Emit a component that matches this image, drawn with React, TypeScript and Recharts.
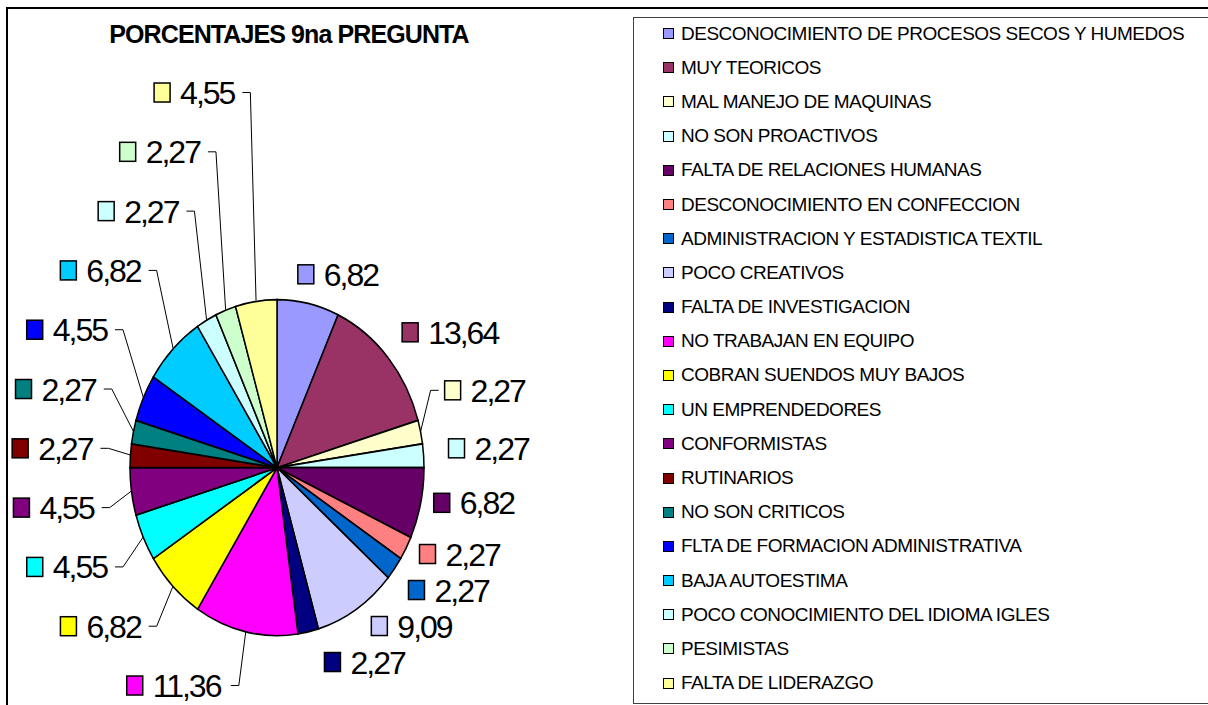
import { PieChart, Pie, Cell, Legend } from 'recharts';

const categories = [
  'DESCONOCIMIENTO DE PROCESOS SECOS Y HUMEDOS',
  'MUY TEORICOS',
  'MAL MANEJO DE MAQUINAS',
  'NO SON PROACTIVOS',
  'FALTA DE RELACIONES HUMANAS',
  'DESCONOCIMIENTO EN CONFECCION',
  'ADMINISTRACION Y ESTADISTICA TEXTIL',
  'POCO CREATIVOS',
  'FALTA DE INVESTIGACION',
  'NO TRABAJAN EN EQUIPO',
  'COBRAN SUENDOS MUY BAJOS',
  'UN EMPRENDEDORES',
  'CONFORMISTAS',
  'RUTINARIOS',
  'NO SON CRITICOS',
  'FLTA DE FORMACION ADMINISTRATIVA',
  'BAJA AUTOESTIMA',
  'POCO CONOCIMIENTO DEL IDIOMA IGLES',
  'PESIMISTAS',
  'FALTA DE LIDERAZGO',
];

const values = [
  6.82, 13.64, 2.27, 2.27, 6.82, 2.27, 2.27, 9.09, 2.27, 11.36,
  6.82, 4.55, 4.55, 2.27, 2.27, 4.55, 6.82, 2.27, 2.27, 4.55,
];

const colors = [
  '#9999FF', '#993366', '#FFFFCC', '#CCFFFF', '#660066',
  '#FF8080', '#0066CC', '#CCCCFF', '#000080', '#FF00FF',
  '#FFFF00', '#00FFFF', '#800080', '#800000', '#008080',
  '#0000FF', '#00CCFF', '#CCFFFF', '#CCFFCC', '#FFFF99',
];

const data = categories.map((name, i) => ({ name, value: values[i] }));

// pie geometry (svg coords); Excel draws it slightly taller than wide
const CX = 264;
const CY = 453;
const R = 147;
const STRETCH = 168 / 147;
const RAD = Math.PI / 180;

const FONT = '"Liberation Sans", Arial, sans-serif';
const LABEL_SIZE = 32;
const LABEL_SPACING = -2;

const fmt = (v: number) => v.toFixed(2).replace('.', ',');

function textWidth(s: string) {
  let w = 0;
  for (const ch of s) w += ch === ',' ? 0.278 : 0.556;
  return w * LABEL_SIZE + LABEL_SPACING * (s.length - 1);
}

// spread labels vertically on each side so they don't overlap
function labelRows() {
  const total = values.reduce((a, b) => a + b, 0);
  const ry = R * STRETCH;
  let acc = 0;
  const items = values.map((v, i) => {
    const mid = 90 - ((acc + v / 2) / total) * 360;
    acc += v;
    const c = Math.cos(mid * RAD);
    const s = Math.sin(mid * RAD);
    return { i, s, y: CY - (ry + 24) * s, right: c >= 0 };
  });
  const place = (list: typeof items, gapUp: number, gapDown: number) => {
    list.sort((a, b) => a.y - b.y);
    let k = 0;
    list.forEach((it, j) => {
      if (Math.abs(it.s) < Math.abs(list[k].s)) k = j;
    });
    for (let j = k - 1; j >= 0; j--) list[j].y = Math.min(list[j].y, list[j + 1].y - gapUp);
    for (let j = k + 1; j < list.length; j++) list[j].y = Math.max(list[j].y, list[j - 1].y + gapDown);
  };
  place(items.filter((it) => it.right), 58, 36);
  place(items.filter((it) => !it.right), 59.3, 59.3);
  const ys: number[] = [];
  items.forEach((it) => (ys[it.i] = it.y));
  return ys;
}

const rows = labelRows();

const renderLabel = (props: any) => {
  const { cx, cy, midAngle, outerRadius, index, value } = props;
  const c = Math.cos(midAngle * RAD);
  const s = Math.sin(midAngle * RAD);
  const px = cx + outerRadius * c;
  const py = cy - outerRadius * STRETCH * s;
  const y = rows[index];
  const txt = fmt(value);
  const tw = textWidth(txt);
  const w = 26 + tw;
  const right = c >= 0;
  const bend = 1 - Math.abs(c);
  const left = right
    ? s > 0
      ? cx + 172 * c - 20 * bend
      : cx + 160 * c + 17 * bend
    : cx + 183 * c - 17 * bend - w;
  const dx = Math.max(left - px, 0, px - (left + w));
  const dy = Math.max(y - 16 - py, 0, py - (y + 16));
  const leader = Math.hypot(dx, dy) > 24.9;
  const lineD = right
    ? `M${left - 6},${y}H${left - 14}L${px},${py}`
    : `M${left + w + 6},${y}H${left + w + 14}L${px},${py}`;
  return (
    <g key={`lbl-${index}`}>
      {leader && <path d={lineD} fill="none" stroke="#000" strokeWidth={1} />}
      <rect x={left} y={y - 9.5} width={16} height={19} fill={colors[index]} stroke="#000" strokeWidth={1.5} />
      <text
        x={left + 26}
        y={y + 11.5}
        fontFamily={FONT}
        fontSize={LABEL_SIZE}
        letterSpacing={LABEL_SPACING}
        fill="#000"
      >
        {txt}
      </text>
    </g>
  );
};

const renderLegend = (props: any) => {
  const items = [...(props.payload || [])].sort(
    (a: any, b: any) => categories.indexOf(a.value) - categories.indexOf(b.value)
  );
  return (
    <div style={{ paddingLeft: 29, marginTop: -1.5 }}>
      {items.map((entry: any) => (
        <div key={entry.value} style={{ height: 34.2, display: 'flex', alignItems: 'center' }}>
          <span
            style={{
              display: 'inline-block',
              width: 11,
              height: 11,
              boxSizing: 'border-box',
              border: '1.5px solid #000',
              background: colors[categories.indexOf(entry.value)],
              marginRight: 7,
            }}
          />
          <span style={{ fontFamily: FONT, fontSize: 19, letterSpacing: -0.5, color: '#000', whiteSpace: 'nowrap' }}>
            {entry.value}
          </span>
        </div>
      ))}
    </div>
  );
};

export default function App() {
  return (
    <div
      className="pie9"
      style={{
        position: 'absolute',
        left: 6,
        top: 7,
        width: 1202,
        height: 698,
        boxSizing: 'border-box',
        borderLeft: '2px solid #000',
        borderTop: '2px solid #000',
        overflow: 'hidden',
        background: '#fff',
      }}
    >
      <style>{`
        .pie9 .recharts-pie-sector path {
          transform-box: view-box;
          transform-origin: ${CX}px ${CY}px;
          transform: scaleY(${STRETCH});
        }
      `}</style>
      <div
        style={{
          position: 'absolute',
          left: 0,
          width: 562,
          top: 13,
          textAlign: 'center',
          fontFamily: FONT,
          fontWeight: 'bold',
          fontSize: 25,
          letterSpacing: -0.9,
          lineHeight: '25px',
          zIndex: 2,
        }}
      >
        PORCENTAJES 9na PREGUNTA
      </div>
      <PieChart width={1230} height={696}>
        <Pie
          data={data}
          dataKey="value"
          nameKey="name"
          cx={CX}
          cy={CY}
          outerRadius={R}
          startAngle={90}
          endAngle={-270}
          stroke="#000"
          strokeWidth={1.5}
          label={renderLabel}
          labelLine={false}
          isAnimationActive={false}
        >
          {data.map((d, i) => (
            <Cell key={d.name} fill={colors[i]} />
          ))}
        </Pie>
        <Legend
          layout="vertical"
          align="right"
          verticalAlign="top"
          content={renderLegend}
          wrapperStyle={{
            position: 'absolute',
            left: 625,
            top: 8,
            width: 600,
            height: 687,
            border: '1px solid #404040',
            boxSizing: 'border-box',
            background: '#fff',
          }}
        />
      </PieChart>
    </div>
  );
}
